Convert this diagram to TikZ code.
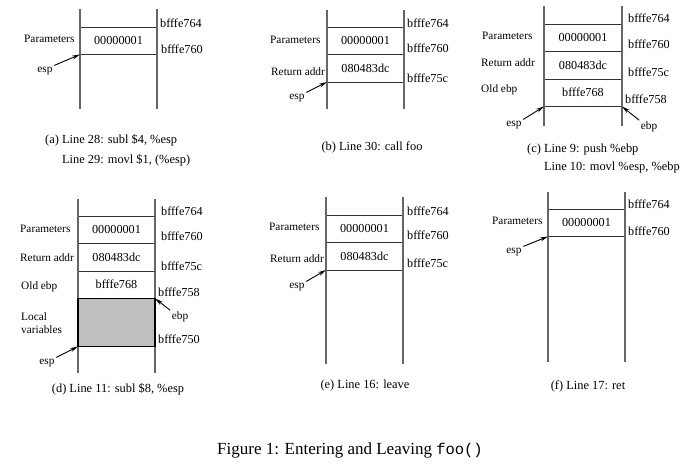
\documentclass[tikz,border=0pt]{standalone}
\usepackage{fontspec}
\setmainfont{Liberation Serif}
\setmonofont{Liberation Mono}
\usetikzlibrary{arrows.meta, positioning}

\newcommand{\lblsize}{\fontsize{11.3}{13}\selectfont}
\newcommand{\valsize}{\fontsize{12.2}{14}\selectfont}

\begin{document}
\begin{tikzpicture}[
    x=1pt, y=-1pt,
    cell/.style={rectangle, draw=black!80, line width=1pt, minimum width=77pt, minimum height=27.5pt, inner sep=0pt, outer sep=0pt, font=\valsize},
    side/.style={draw=black!60, line width=1.1pt},
    lbl/.style={anchor=west, inner sep=0pt, font=\lblsize, align=left},
    reg/.style={inner sep=1.5pt, font=\lblsize},
    addr/.style={anchor=west, inner sep=0pt, font=\valsize},
    ptr/.style={-{Stealth[length=8pt, width=4pt]}, line width=0.9pt},
    subcap/.style={inner sep=0pt, font=\fontsize{12.4}{20}\selectfont, align=left},
  ]
  \useasboundingbox (0,0) rectangle (692,464);

  % (a) Parameters pushed
  \node[cell, anchor=north west] (parA) at (80,27) {00000001};
  \draw[side] (80,9) -- (80,109);
  \draw[side] (157,9) -- (157,109);
  \node[lbl] (lparA) at (24,39) {Parameters};
  \node[addr] (a764) at (160,23) {bfffe764};
  \node[addr] (a760) at (161,49) {bfffe760};
  \node[reg] (espA) at (45,71) {esp};
  \draw[ptr] (espA.north east) -- (parA.south west);
  \node[subcap, anchor=west] (capA) at (45,150) {(a) Line 28: subl \$4, \%esp\\\phantom{(a) }Line 29: movl \$1, (\%esp)};

  % (b) Return address pushed
  \node[cell, anchor=north west] (parB) at (327,27) {00000001};
  \node[cell, below=0pt of parB] (retB) {080483dc};
  \draw[side] (327,10) -- (327,109);
  \draw[side] (404,10) -- (404,109);
  \node[lbl] (lparB) at (270,40) {Parameters};
  \node[lbl] (lretB) at (271,72) {Return addr};
  \node[addr] (b764) at (407,23) {bfffe764};
  \node[addr] (b760) at (407,48) {bfffe760};
  \node[addr] (b75c) at (407,78) {bfffe75c};
  \node[reg] (espB) at (297,98) {esp};
  \draw[ptr] (espB.north east) -- (retB.south west);
  \node[subcap] (capB) at (372,147) {(b) Line 30: call foo};

  % (c) Old ebp saved, ebp = esp
  \node[cell, anchor=north west, minimum width=78pt] (parC) at (544,24) {00000001};
  \node[cell, below=0pt of parC, minimum width=78pt] (retC) {080483dc};
  \node[cell, below=0pt of retC, minimum width=78pt] (oldC) {bfffe768};
  \draw[side] (544,6) -- (544,126);
  \draw[side] (622,6) -- (622,126);
  \node[lbl] (lparC) at (482,36) {Parameters};
  \node[lbl] (lretC) at (481,63) {Return addr};
  \node[lbl] (loldC) at (481,90) {Old ebp};
  \node[addr] (c764) at (628,18) {bfffe764};
  \node[addr] (c760) at (628,44) {bfffe760};
  \node[addr] (c75c) at (628,72) {bfffe75c};
  \node[addr] (c758) at (625,99) {bfffe758};
  \node[reg] (espC) at (514,125) {esp};
  \draw[ptr] (espC.north east) -- (oldC.south west);
  \node[reg] (ebpC) at (649,127) {ebp};
  \draw[ptr] (ebpC.north west) -- (oldC.south east);
  \node[subcap, anchor=west, font=\fontsize{12.4}{18}\selectfont] (capC) at (527,159) {(c) Line 9: push \%ebp\\\phantom{(c) }Line 10: movl \%esp, \%ebp};

  % (d) Room for local variables
  \node[cell, anchor=north west] (parD) at (78,216) {00000001};
  \node[cell, below=0pt of parD] (retD) {080483dc};
  \node[cell, below=0pt of retD] (oldD) {bfffe768};
  \draw[side] (78,199) -- (78,373);
  \draw[side] (155,199) -- (155,373);
  \node[cell, below=0pt of oldD, minimum height=48pt, fill=black!25, draw=black, line width=1.4pt] (locD) {};
  \node[lbl] (lparD) at (20,229) {Parameters};
  \node[lbl] (lretD) at (20,258) {Return addr};
  \node[lbl] (loldD) at (21,287) {Old ebp};
  \node[lbl] (llocD) at (21,323.5) {Local\\variables};
  \node[addr] (d764) at (161,211) {bfffe764};
  \node[addr] (d760) at (161,236) {bfffe760};
  \node[addr] (d75c) at (161,266) {bfffe75c};
  \node[addr] (d758) at (158,292) {bfffe758};
  \node[addr] (d750) at (158,339) {bfffe750};
  \node[reg] (ebpD) at (180,317) {ebp};
  \draw[ptr] (ebpD.north west) -- (locD.north east);
  \node[reg] (espD) at (47,363) {esp};
  \draw[ptr] (espD.north east) -- (locD.south west);
  \node[subcap] (capD) at (118,389) {(d) Line 11: subl \$8, \%esp};

  % (e) After leave
  \node[cell, anchor=north west] (parE) at (326,215) {00000001};
  \node[cell, below=0pt of parE] (retE) {080483dc};
  \draw[side] (326,197) -- (326,364);
  \draw[side] (403,197) -- (403,364);
  \node[lbl] (lparE) at (269,227) {Parameters};
  \node[lbl] (lretE) at (270,259) {Return addr};
  \node[addr] (e764) at (407,211) {bfffe764};
  \node[addr] (e760) at (407,235) {bfffe760};
  \node[addr] (e75c) at (407,263) {bfffe75c};
  \node[reg] (espE) at (297,287) {esp};
  \draw[ptr] (espE.north east) -- (retE.south west);
  \node[subcap] (capE) at (365,386) {(e) Line 16: leave};

  % (f) After ret
  \node[cell, anchor=north west] (parF) at (548,209) {00000001};
  \draw[side] (548,192) -- (548,362);
  \draw[side] (625,192) -- (625,362);
  \node[lbl] (lparF) at (492,221) {Parameters};
  \node[addr] (f764) at (628,204) {bfffe764};
  \node[addr] (f760) at (628,231) {bfffe760};
  \node[reg] (espF) at (514,252) {esp};
  \draw[ptr] (espF.north east) -- (parF.south west);
  \node[subcap] (capF) at (588,386) {(f) Line 17: ret};

  % Figure caption
  \node[font=\fontsize{17}{20}\selectfont, inner sep=0pt] (figcap) at (350,450) {Figure 1: Entering and Leaving {\fontsize{15.5}{20}\selectfont\texttt{foo()}}};
\end{tikzpicture}
\end{document}
